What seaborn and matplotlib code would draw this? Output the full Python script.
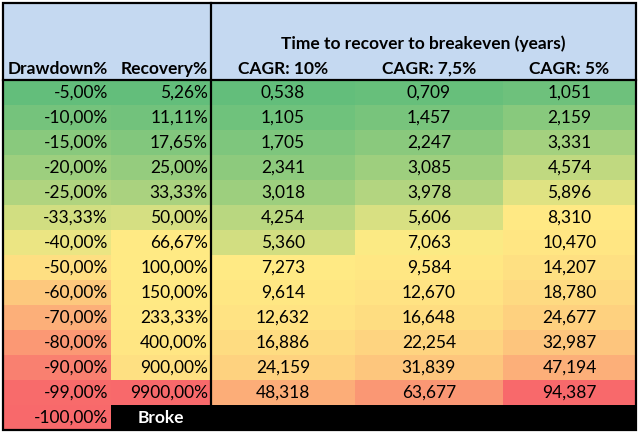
import numpy as np
import pandas as pd
import matplotlib
matplotlib.use("Agg")
import matplotlib.pyplot as plt
import seaborn as sns
from matplotlib.colors import LinearSegmentedColormap, TwoSlopeNorm
from matplotlib.patches import Rectangle

# --------------------------
# Data
# --------------------------
drawdown = [-5.00, -10.00, -15.00, -20.00, -25.00, -33.33, -40.00,
            -50.00, -60.00, -70.00, -80.00, -90.00, -99.00, -100.00]
recovery = [5.26, 11.11, 17.65, 25.00, 33.33, 50.00, 66.67,
            100.00, 150.00, 233.33, 400.00, 900.00, 9900.00]
cagr_10 = [0.538, 1.105, 1.705, 2.341, 3.018, 4.254, 5.360,
           7.273, 9.614, 12.632, 16.886, 24.159, 48.318]
cagr_75 = [0.709, 1.457, 2.247, 3.085, 3.978, 5.606, 7.063,
           9.584, 12.670, 16.648, 22.254, 31.839, 63.677]
cagr_5 = [1.051, 2.159, 3.331, 4.574, 5.896, 8.310, 10.470,
          14.207, 18.780, 24.677, 32.987, 47.194, 94.387]

col_labels = ["Drawdown%", "Recovery%", "CAGR: 10%", "CAGR: 7,5%", "CAGR: 5%"]
group_title = "Time to recover to breakeven (years)"
broke_label = "Broke"

# --------------------------
# Layout (pixels)
# --------------------------
W, H = 640, 436
col_edges = [3, 111, 211, 355, 503, 636]
head_top, head_bot = 3, 80
n_rows = len(drawdown)
row_h = 25
data_bot = head_bot + n_rows * row_h

FONT = "Lato"
FS = 12.5

plt.rcParams["font.family"] = [FONT, "DejaVu Sans"]

excel = LinearSegmentedColormap.from_list("excel", ["#63BE7B", "#FFEB84", "#F8696B"])

def pad(vals):
    return vals + [np.nan] * (n_rows - len(vals))

times = cagr_10 + cagr_75 + cagr_5
time_norm = TwoSlopeNorm(vmin=min(times), vcenter=np.median(times), vmax=max(times))

columns = [
    (drawdown, excel.reversed(), TwoSlopeNorm(vmin=min(drawdown), vcenter=np.median(drawdown), vmax=max(drawdown))),
    (recovery, excel, TwoSlopeNorm(vmin=min(recovery), vcenter=np.median(recovery), vmax=max(recovery))),
    (cagr_10, excel, time_norm),
    (cagr_75, excel, time_norm),
    (cagr_5, excel, time_norm),
]

fig = plt.figure(figsize=(W / 100, H / 100), dpi=100)
fig.patch.set_facecolor("white")

def fmt_pct(v):
    return f"{v:.2f}%".replace(".", ",")

def fmt_num(v):
    return f"{v:.3f}".replace(".", ",")

for j, (vals, cmap, norm) in enumerate(columns):
    x0, x1 = col_edges[j], col_edges[j + 1]
    ax = fig.add_axes([x0 / W, 1 - data_bot / H, (x1 - x0) / W, (data_bot - head_bot) / H])
    df = pd.DataFrame({"v": pad(list(vals))})
    sns.heatmap(df, ax=ax, cmap=cmap, norm=norm, cbar=False,
                xticklabels=False, yticklabels=False, linewidths=0)
    ax.set_facecolor("black")
    ax.set_xlabel("")
    ax.set_ylabel("")
    width = x1 - x0
    for i, v in enumerate(df["v"]):
        if np.isnan(v):
            continue
        if j < 2:
            ax.text(1 - 3 / width, i + 0.5, fmt_pct(v), ha="right", va="center",
                    fontsize=FS, color="black")
        else:
            ax.text(0.5, i + 0.5, fmt_num(v), ha="center", va="center",
                    fontsize=FS, color="black")
    if j == 1:
        ax.text(0.5, n_rows - 0.5, broke_label, ha="center", va="center",
                fontsize=FS, color="white", fontweight="bold")

# --------------------------
# Header and borders
# --------------------------
ov = fig.add_axes([0, 0, 1, 1])
ov.set_xlim(0, W)
ov.set_ylim(H, 0)
ov.axis("off")
ov.patch.set_alpha(0)

ov.add_patch(Rectangle((col_edges[0], head_top), col_edges[-1] - col_edges[0], head_bot - head_top,
                       facecolor="#C5D9F1", edgecolor="none", zorder=0))

ov.text((col_edges[2] + col_edges[-1]) / 2, 44, group_title, ha="center", va="center",
        fontsize=FS, fontweight="bold")
for j, lab in enumerate(col_labels):
    if j < 2:
        ov.text(col_edges[j + 1] - 3, 69, lab, ha="right", va="center", fontsize=FS, fontweight="bold")
    else:
        ov.text((col_edges[j] + col_edges[j + 1]) / 2, 69, lab, ha="center", va="center",
                fontsize=FS, fontweight="bold")

lw = 1.6
ov.plot([col_edges[0], col_edges[-1]], [head_bot, head_bot], color="black", lw=lw)
ov.plot([col_edges[2], col_edges[2]], [head_top, data_bot - row_h], color="black", lw=lw)
ov.add_patch(Rectangle((col_edges[0], head_top), col_edges[-1] - col_edges[0], data_bot - head_top,
                       facecolor="none", edgecolor="black", lw=lw, zorder=5))

fig.savefig("out.png", dpi=100)
